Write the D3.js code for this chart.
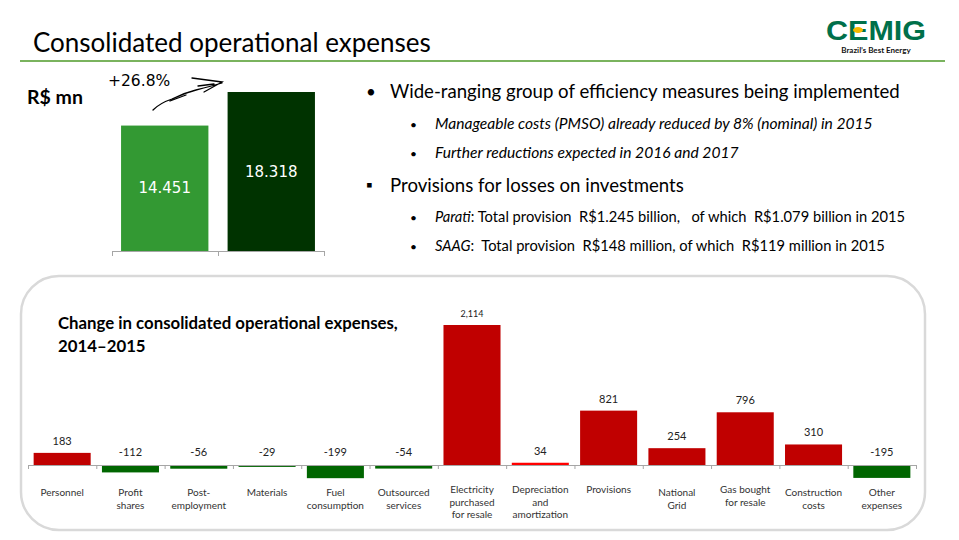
<!DOCTYPE html>
<html><head><meta charset="utf-8">
<script src="https://cdn.jsdelivr.net/npm/d3@7"></script>
<style>
html,body{margin:0;padding:0;background:#fff;}
svg{display:block;}
</style></head>
<body>
<svg id="c" width="959" height="540"></svg>
<script>
// ---------- data ----------
const topYears = ["2014", "2015"];
const topValues = [14451, 18318];
const topLabels = ["14.451", "18.318"];
const topGrowth = "+26.8%";

const categories = ["Personnel","Profit shares","Post-employment","Materials","Fuel consumption","Outsourced services","Electricity purchased for resale","Depreciation and amortization","Provisions","National Grid","Gas bought for resale","Construction costs","Other expenses"];
const categoryLines = [["Personnel"],["Profit","shares"],["Post-","employment"],["Materials"],["Fuel","consumption"],["Outsourced","services"],["Electricity","purchased","for resale"],["Depreciation","and","amortization"],["Provisions"],["National","Grid"],["Gas bought","for resale"],["Construction","costs"],["Other","expenses"]];
const changes = [183, -112, -56, -29, -199, -54, 2114, 34, 821, 254, 796, 310, -195];
const changeLabels = ["183","-112","-56","-29","-199","-54","2,114","34","821","254","796","310","-195"];

const bullets = [
  {level:0, mark:"•", parts:[{t:"Wide-ranging group of efficiency measures being implemented"}]},
  {level:1, mark:"•", parts:[{t:"Manageable costs (PMSO) already reduced by 8% (nominal) in 2015", i:true}]},
  {level:1, mark:"•", parts:[{t:"Further reductions expected in 2016 and 2017", i:true}]},
  {level:0, mark:"▪", parts:[{t:"Provisions for losses on investments"}]},
  {level:1, mark:"•", parts:[{t:"Parati", i:true},{t:": Total provision  R$1.245 billion,   of which  R$1.079 billion in 2015"}]},
  {level:1, mark:"•", parts:[{t:"SAAG", i:true},{t:":  Total provision  R$148 million, of which  R$119 million in 2015"}]}
];

// ---------- drawing ----------
const svg = d3.select("#c");
const FONT = "Lato, 'Open Sans', sans-serif";

// header
svg.append("text").attr("x", 33).attr("y", 52).attr("font-family", FONT)
  .attr("font-size", 26).attr("fill", "#000").text("Consolidated operational expenses");
svg.append("line").attr("x1", 20).attr("x2", 945).attr("y1", 61).attr("y2", 61)
  .attr("stroke", "#7ab35e").attr("stroke-width", 2);

// logo
const logo = svg.append("g");
logo.append("text").attr("x", 826).attr("y", 40).attr("font-family", "'Liberation Sans', Arial, sans-serif")
  .attr("font-weight", "bold").attr("font-size", 28).attr("fill", "#00704a")
  .attr("textLength", 100).attr("lengthAdjust", "spacingAndGlyphs").text("CEMIG");
logo.append("ellipse").attr("cx", 858).attr("cy", 30).attr("rx", 5).attr("ry", 3).attr("fill", "#f5b800");
logo.append("text").attr("x", 876).attr("y", 53).attr("text-anchor", "middle").attr("font-family", FONT)
  .attr("font-weight", "bold").attr("font-size", 8).attr("fill", "#111").text("Brazil’s Best Energy");

// ---------- top chart ----------
svg.append("text").attr("x", 27).attr("y", 104).attr("font-family", FONT).attr("font-weight", "bold")
  .attr("font-size", 19.5).attr("fill", "#000").text("R$ mn");

const xTop = d3.scaleBand().domain(topYears).range([112, 324]).paddingInner(0.18).paddingOuter(0.085);
const yTop = d3.scaleLinear().domain([0, 18318]).range([251, 92]);

svg.append("g").selectAll("rect").data(topValues).join("rect")
  .attr("x", (d, i) => xTop(topYears[i])).attr("width", xTop.bandwidth())
  .attr("y", d => yTop(d)).attr("height", d => yTop(0) - yTop(d))
  .attr("fill", (d, i) => i === 0 ? "#339933" : "#003300");

svg.append("g").selectAll("text").data(topValues).join("text")
  .attr("x", (d, i) => xTop(topYears[i]) + xTop.bandwidth() / 2)
  .attr("y", d => (yTop(d) + yTop(0)) / 2 + 5)
  .attr("text-anchor", "middle").attr("font-family", "'DejaVu Sans', Verdana, sans-serif")
  .attr("font-size", 15).attr("fill", "#fff").text((d, i) => topLabels[i]);

const xTopEdges = d3.scaleLinear().domain([0, topYears.length]).range([112, 324]);
const topAxis = svg.append("g").attr("transform", `translate(0,${yTop(0)})`)
  .call(d3.axisBottom(xTopEdges).tickValues(d3.range(topYears.length + 1)).tickFormat("").tickSize(5).tickSizeOuter(0));
topAxis.select(".domain").attr("stroke", "#a6a6a6");
topAxis.selectAll(".tick line").attr("stroke", "#a6a6a6");

svg.append("text").attr("x", 108).attr("y", 86).attr("font-family", "'DejaVu Sans', Verdana, sans-serif")
  .attr("font-size", 15.5).attr("fill", "#000").text(topGrowth);
svg.append("path").attr("d", "M153,110 C160,103 166,101 172,99 C180,95 188,92 196,90 C204,88 212,86 222,83 M192,78 L222,82 L204,92 M198,86 L214,84 M170,101 L186,95")
  .attr("fill", "none").attr("stroke", "#000").attr("stroke-width", 1.3).attr("stroke-linecap", "round");

// ---------- bullets ----------
const bulletY = [98, 129, 158, 192, 222, 251];
bullets.forEach((b, i) => {
  const big = b.level === 0;
  const mx = big ? 366 : 410, tx = big ? 390 : 435;
  svg.append("text").attr("x", mx).attr("y", bulletY[i] - (b.mark === "▪" ? 1 : 0)).attr("font-family", FONT)
    .attr("font-size", big ? 17 : 12).attr("fill", "#000").text(b.mark);
  const t = svg.append("text").attr("x", tx).attr("y", bulletY[i]).attr("font-family", FONT)
    .attr("font-size", big ? 18.6 : 14.7).attr("fill", "#000").attr("xml:space", "preserve");
  b.parts.forEach(p => t.append("tspan").attr("font-style", p.i ? "italic" : "normal")
    .attr("font-size", (!big && p.i && b.parts.length === 1) ? 15.6 : null).text(p.t));
});

// ---------- bottom panel ----------
svg.append("rect").attr("x", 21).attr("y", 276).attr("width", 904).attr("height", 254).attr("rx", 38)
  .attr("fill", "#fff").attr("stroke", "#d9d9d9").attr("stroke-width", 2.5);

svg.append("text").attr("x", 58).attr("y", 329).attr("font-family", FONT).attr("font-weight", "bold")
  .attr("font-size", 16.8).attr("fill", "#000").text("Change in consolidated operational expenses,");
svg.append("text").attr("x", 58).attr("y", 352).attr("font-family", FONT).attr("font-weight", "bold")
  .attr("font-size", 16.8).attr("fill", "#000").text("2014–2015");

const x = d3.scaleBand().domain(categories).range([28, 916]).paddingInner(0.165).paddingOuter(0.0825);
const y = d3.scaleLinear().domain([0, 2114]).range([465, 325]);

const colorOf = (d, i) => d < 0 ? "#006600" : (categories[i].startsWith("Depreciation") ? "#ff0000" : "#c00000");

svg.append("g").selectAll("rect").data(changes).join("rect")
  .attr("x", (d, i) => x(categories[i])).attr("width", x.bandwidth())
  .attr("y", d => y(Math.max(0, d))).attr("height", d => Math.abs(y(d) - y(0)))
  .attr("fill", colorOf);

const xEdges = d3.scaleLinear().domain([0, categories.length]).range([28, 916]);
const ax = svg.append("g").attr("transform", `translate(0,${y(0)})`)
  .call(d3.axisBottom(xEdges).tickValues(d3.range(categories.length + 1)).tickFormat("").tickSize(4).tickSizeOuter(0));
ax.select(".domain").attr("stroke", "#a6a6a6");
ax.selectAll(".tick line").attr("stroke", "#a6a6a6");

svg.append("g").selectAll("text").data(changes).join("text")
  .attr("x", (d, i) => x(categories[i]) + x.bandwidth() / 2)
  .attr("y", d => d >= 0 ? y(d) - 8 : y(0) - 9)
  .attr("text-anchor", "middle").attr("font-family", FONT)
  .attr("font-size", (d, i) => d > 1000 ? 9 : 11).attr("fill", "#222")
  .text((d, i) => changeLabels[i]);

const lab = svg.append("g").selectAll("text").data(categoryLines).join("text")
  .attr("x", (d, i) => x(categories[i]) + x.bandwidth() / 2)
  .attr("y", (d) => d.length === 3 || d[0] === "Provisions" || d[0] === "Gas bought" ? 493 : 496)
  .attr("text-anchor", "middle").attr("font-family", FONT).attr("font-size", 10).attr("fill", "#333");
lab.each(function(lines) {
  const t = d3.select(this);
  lines.forEach((l, j) => t.append("tspan").attr("x", t.attr("x")).attr("dy", j === 0 ? 0 : 12.5).text(l));
});
</script>
</body></html>
